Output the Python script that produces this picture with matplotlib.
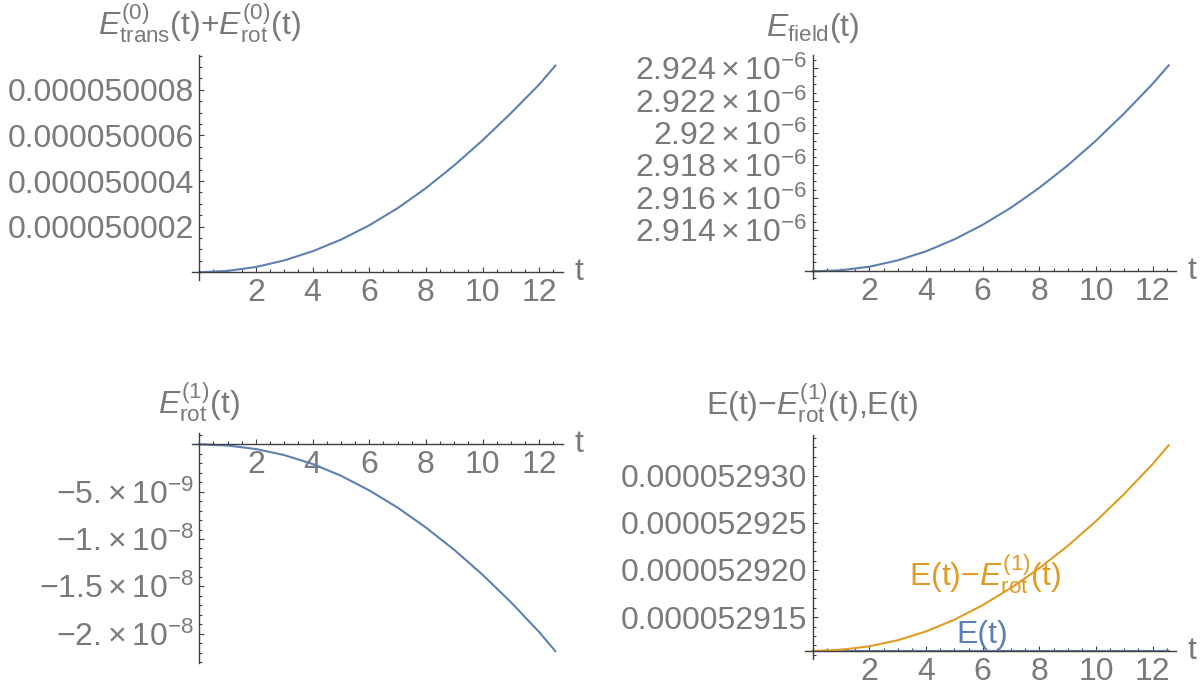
import matplotlib
matplotlib.use("Agg")
import matplotlib.pyplot as plt
from matplotlib.ticker import FixedLocator, FixedFormatter, MultipleLocator

plt.rcParams['font.family'] = ['Liberation Sans', 'DejaVu Sans']
plt.rcParams['mathtext.fontset'] = 'custom'
plt.rcParams['mathtext.rm'] = 'Liberation Sans'
plt.rcParams['mathtext.it'] = 'Liberation Sans:italic'
plt.rcParams['mathtext.default'] = 'regular'

# time samples (0 .. 4 pi)
t = [0, 1, 2, 3, 4, 5, 6, 7, 8, 9, 10, 11, 12, 12.566]

# E_trans^(0) + E_rot^(0)
e_zero = [5.000000e-5, 5.000006e-5, 5.000023e-5, 5.000052e-5, 5.000092e-5,
          5.000143e-5, 5.000206e-5, 5.000281e-5, 5.000369e-5, 5.000469e-5,
          5.000579e-5, 5.000698e-5, 5.000824e-5, 5.000906e-5]

# E_field
e_field = [2.91144e-6, 2.91151e-6, 2.91173e-6, 2.91212e-6, 2.91268e-6,
           2.91342e-6, 2.91432e-6, 2.91538e-6, 2.91661e-6, 2.91799e-6,
           2.91953e-6, 2.92122e-6, 2.92304e-6, 2.92418e-6]

# E_rot^(1)
e_rot1 = [0.0, -0.13e-9, -0.50e-9, -1.14e-9, -2.08e-9, -3.32e-9, -4.87e-9,
          -6.69e-9, -8.79e-9, -11.15e-9, -13.78e-9, -16.68e-9, -19.84e-9,
          -21.84e-9]

# E(t) - E_rot^(1)(t) and E(t)
e_minus_rot = [5.291140e-5, 5.291153e-5, 5.291190e-5, 5.291254e-5, 5.291348e-5,
               5.291472e-5, 5.291627e-5, 5.291809e-5, 5.292019e-5, 5.292255e-5,
               5.292518e-5, 5.292808e-5, 5.293124e-5, 5.293324e-5]
e_total = [5.29114e-5] * len(t)

# ticks
x_ticks = [2, 4, 6, 8, 10, 12]
x_labels = ['2', '4', '6', '8', '10', '12']
y1_ticks = [5.0002e-5, 5.0004e-5, 5.0006e-5, 5.0008e-5]
y1_labels = ['0.000050002', '0.000050004', '0.000050006', '0.000050008']
y2_ticks = [2.914e-6, 2.916e-6, 2.918e-6, 2.920e-6, 2.922e-6, 2.924e-6]
y2_labels = [r'$2.914\times10^{-6}$', r'$2.916\times10^{-6}$', r'$2.918\times10^{-6}$',
             r'$2.92\times10^{-6}$', r'$2.922\times10^{-6}$', r'$2.924\times10^{-6}$']
y3_ticks = [-5e-9, -1e-8, -1.5e-8, -2e-8]
y3_labels = [r'$-5.\!\times10^{-9}$', r'$-1.\!\times10^{-8}$',
             r'$-1.5\times10^{-8}$', r'$-2.\!\times10^{-8}$']
y4_ticks = [5.2915e-5, 5.2920e-5, 5.2925e-5, 5.2930e-5]
y4_labels = ['0.000052915', '0.000052920', '0.000052925', '0.000052930']

blue = '#5E81B5'
orange = '#E19C24'
axis_col = '#404040'
label_col = '#7a7a7a'
fs = 23

W, H = 1204, 693
fig = plt.figure(figsize=(W / 100, H / 100), dpi=100)


def make_axes(left, top, right, bottom):
    return fig.add_axes([left / W, 1 - bottom / H, (right - left) / W, (bottom - top) / H])


def style(ax, ylim, yorigin, yticks, ylabels, yminor, title):
    ax.set_xlim(-0.27, 12.84)
    ax.set_ylim(*ylim)
    for s in ['top', 'right']:
        ax.spines[s].set_visible(False)
    ax.spines['left'].set_position(('data', 0))
    ax.spines['bottom'].set_position(('data', yorigin))
    for s in ['left', 'bottom']:
        ax.spines[s].set_color(axis_col)
        ax.spines[s].set_linewidth(1.0)
    ax.xaxis.set_major_locator(FixedLocator(x_ticks))
    ax.xaxis.set_major_formatter(FixedFormatter(x_labels))
    ax.xaxis.set_minor_locator(MultipleLocator(0.5))
    ax.yaxis.set_major_locator(FixedLocator(yticks))
    ax.yaxis.set_major_formatter(FixedFormatter(ylabels))
    ax.yaxis.set_minor_locator(MultipleLocator(yminor))
    ax.tick_params(which='both', direction='in', colors=axis_col,
                   labelcolor=label_col, labelsize=fs, width=0.8)
    ax.tick_params(which='major', length=3.4)
    ax.tick_params(which='minor', length=2.0)
    ax.tick_params(axis='x', pad=4)
    ax.tick_params(axis='y', pad=4)
    ax.annotate(title, xy=(0, ylim[1]), xytext=(0, 7), textcoords='offset points',
                ha='center', va='bottom', fontsize=fs, color=label_col,
                annotation_clip=False)
    ax.annotate('t', xy=(12.84, yorigin), xytext=(8, 0), textcoords='offset points',
                ha='left', va='center', fontsize=fs, color=label_col,
                annotation_clip=False)
    ax.patch.set_alpha(0)


# panel 1
ax1 = make_axes(191.65, 55, 563.06, 280)
ax1.plot(t, e_zero, color=blue, lw=1.5, zorder=2)
style(ax1, (5e-5 - 0.34e-9, 5e-5 + 9.53e-9), 5e-5, y1_ticks, y1_labels, 0.5e-9,
      r'$\mathit{E}_{trans}^{(0)}(t){+}\mathit{E}_{rot}^{(0)}(t)$')

# panel 2
ax2 = make_axes(805.05, 55, 1176.46, 279.3)
ax2.plot(t, e_field, color=blue, lw=1.5, zorder=2)
style(ax2, (2.91095e-6, 2.92482e-6), e_field[0], y2_ticks, y2_labels, 0.5e-9,
      r'$\mathit{E}_{field}(t)$')

# panel 3
ax3 = make_axes(191.65, 433.3, 563.06, 663.3)
ax3.plot(t, e_rot1, color=blue, lw=1.5, zorder=2)
style(ax3, (-23.13e-9, 1.16e-9), 0.0, y3_ticks, y3_labels, 1e-9,
      r'$\mathit{E}_{rot}^{(1)}(t)$')

# panel 4
ax4 = make_axes(805.05, 435, 1176.46, 659.3)
ax4.plot(t, e_total, color=blue, lw=1.5, zorder=2)
ax4.plot(t, e_minus_rot, color=orange, lw=1.5, zorder=2)
style(ax4, (e_total[0] - 0.88e-9, e_total[0] + 22.92e-9), e_total[0], y4_ticks, y4_labels,
      1e-9, r'$E(t){-}\mathit{E}_{rot}^{(1)}(t){,}E(t)$')
ax4.text(6.07, e_total[0] + 7.0e-9, r'$E(t){-}\mathit{E}_{rot}^{(1)}(t)$', color=orange,
         fontsize=fs, ha='center', va='baseline')
ax4.text(5.97, e_total[0] + 0.85e-9, 'E(t)', color=blue, fontsize=fs,
         ha='center', va='baseline')

fig.savefig('out.png', dpi=100)
